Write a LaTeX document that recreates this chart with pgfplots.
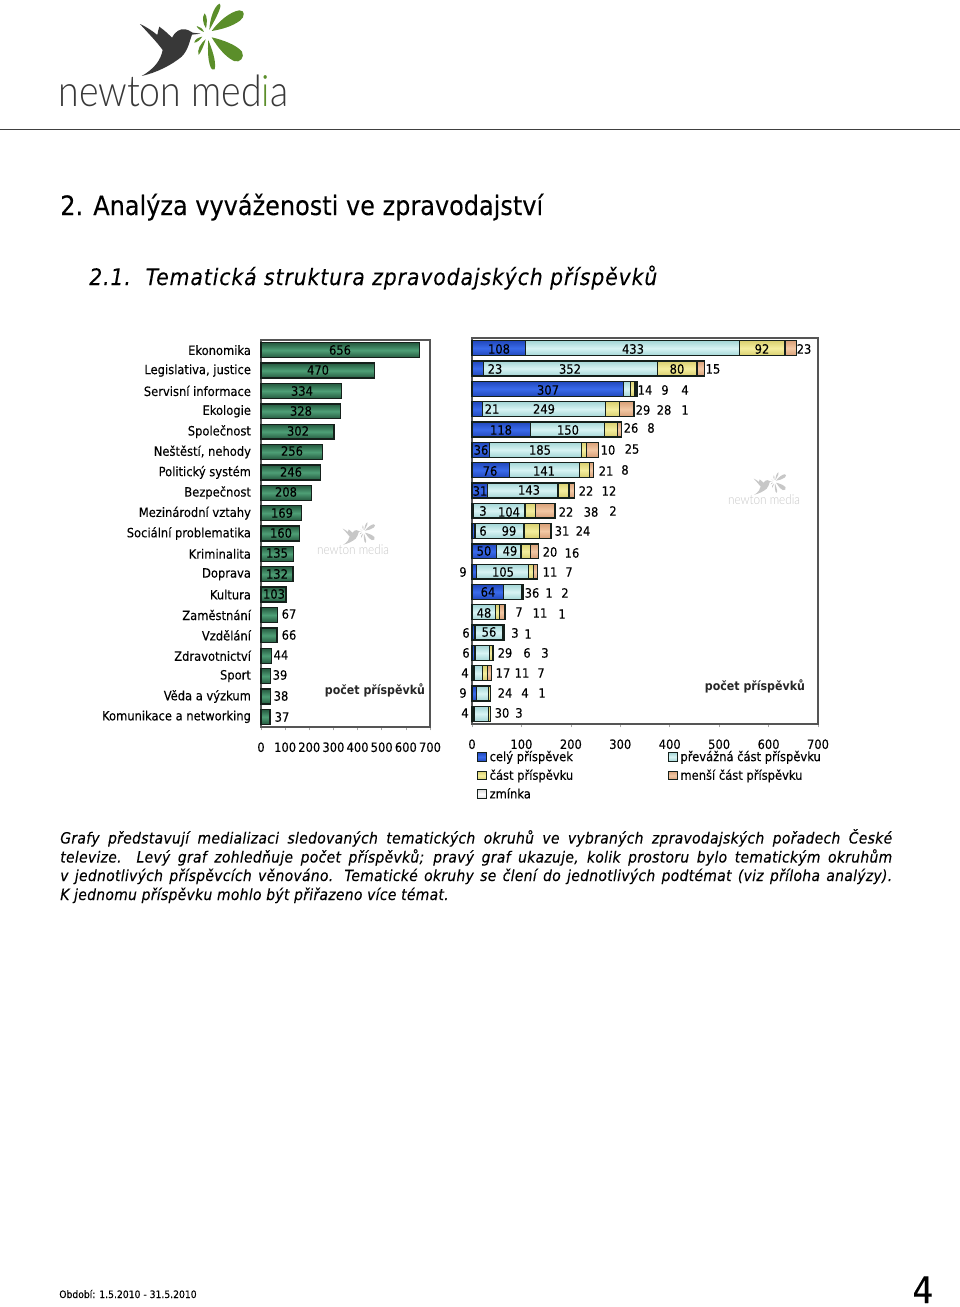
\documentclass[border=0pt]{standalone}
\usepackage{fontspec}
\usepackage{pgfplots}
\usepackage{pgfplotstable}
\pgfplotsset{compat=1.18}
\setmainfont{DejaVu Sans Condensed}[UprightFeatures={FakeBold=0.15}, ItalicFeatures={FakeBold=0.15}]
\newfontfamily\logofont{Lato Light}

\definecolor{framec}{HTML}{555555}
\definecolor{barline}{HTML}{15201B}
\definecolor{greenA}{HTML}{25593F}
\definecolor{greenB}{HTML}{4E9F76}
\definecolor{blueA}{HTML}{2148BC}
\definecolor{blueB}{HTML}{3A6BEA}
\definecolor{aquaA}{HTML}{A4D6D6}
\definecolor{aquaB}{HTML}{D8F4F4}
\definecolor{yelA}{HTML}{D8CF70}
\definecolor{yelB}{HTML}{F4EE9E}
\definecolor{oraA}{HTML}{D8A078}
\definecolor{oraB}{HTML}{F2C8A4}
\definecolor{whiA}{HTML}{DDDDDD}
\definecolor{whiB}{HTML}{FFFFFF}
\definecolor{logogreen}{HTML}{5B8E2A}

% left chart: number of items per topic
\pgfplotstableread{
r v
1 656
2 470
3 334
4 328
5 302
6 256
7 246
8 208
9 169
10 160
11 135
12 132
13 103
14 67
15 66
16 44
17 39
18 38
19 37
}\leftdata

% left chart labels, position in pixels of the page
\pgfplotstableread{
px py lab
340 350 656
318 370 470
302 391 334
301 411 328
298 431 302
292 451 256
291 472 246
286 492 208
282 513 169
281 533 160
277 553 135
277 574 132
274 594 103
289 614 67
289 635 66
281 655 44
280 675 39
281 696 38
282 717 37
}\leftlabels

% right chart: celý, převážná část, část, menší část, zmínka
\pgfplotstableread{
r c p s m z
1 108 433 92 23 0
2 23 352 80 15 0
3 307 14 9 4 0
4 21 249 29 28 1
5 118 150 26 8 0
6 36 185 10 25 0
7 76 141 21 8 0
8 31 143 22 12 0
9 3 104 22 38 2
10 6 99 31 24 0
11 50 49 20 16 0
12 9 105 11 7 0
13 64 36 1 2 0
14 0 48 7 11 1
15 6 56 3 1 0
16 6 29 6 3 0
17 4 17 11 7 0
18 9 24 4 1 0
19 4 30 3 0 0
}\rightdata

\pgfplotstableread{
px py lab
499 349 108
633 349 433
762 349 92
804 349 23
495 369 23
570 369 352
677 369 80
713 369 15
548 390 307
645 390 14
665 390 9
685 390 4
492 409 21
544 409 249
643 410 29
664 410 28
685 410 1
501 430 118
568 430 150
631 428 26
651 428 8
481 450 36
540 450 185
608 450 10
632 449 25
490 471 76
544 471 141
606 471 21
625 470 8
480 491 31
529 490 143
586 491 22
609 491 12
483 511 3
509 512 104
566 512 22
591 512 38
613 511 2
483 531 6
509 531 99
562 531 31
583 531 24
484 551 50
510 551 49
550 552 20
572 553 16
463 572 9
503 572 105
550 572 11
569 572 7
488 592 64
532 593 36
549 593 1
565 593 2
484 613 48
519 612 7
540 613 11
562 614 1
466 633 6
489 632 56
515 633 3
528 634 1
466 653 6
505 653 29
527 653 6
545 653 3
465 673 4
503 673 17
522 673 11
541 673 7
463 693 9
505 693 24
525 693 4
542 693 1
465 713 4
502 713 30
519 713 3
}\rightlabels

\pgfplotsset{
  chartbase/.style={
    scale only axis,
    anchor=south west,
    xmin=0, xmax=700,
    ymin=0.5, ymax=19.5,
    y dir=reverse,
    clip=false,
  },
  framed/.style={
    axis line style={draw=framec, line width=1.1pt},
    xtick={0,100,...,700},
    xtick pos=bottom,
    tick align=outside,
    major tick length=2.5pt,
    xtick style={draw=gray!70, line width=.4pt},
    ytick style={draw=none},
    tick label style={font=\fontsize{9.6}{11}\selectfont},
    /pgf/number format/assume math mode=true,
    xticklabel style={yshift=-5.5pt},
  },
  bar look/.style 2 args={
    draw=barline, line width=1pt,
    top color=#1, bottom color=#1, middle color=#2,
    bar width=11.2pt,
  },
  square/.style 2 args={
    legend image code/.code={\draw[draw=barline, line width=.8pt, top color=#1, bottom color=#1, middle color=#2] (0pt,-3.2pt) rectangle (6.6pt,3.4pt);},
  },
  textlayer/.style={
    hide axis,
    nodes near coords,
    point meta=explicit symbolic,
    nodes near coords style={anchor=center, inner sep=0pt, font=\fontsize{9.6}{11}\selectfont, text=black},
  },
}

\newcommand{\logo}[5]{%
  \begin{scope}[shift={(#1,#2)}, scale=#3, transform shape]
    \fill[#4] (305,228) .. controls (345,205) and (362,180) .. (368,150)
      .. controls (350,125) and (325,100) .. (300,72)
      .. controls (322,82) and (340,95) .. (352,105) .. controls (354,95) and (355,88) .. (358,80)
      .. controls (372,90) and (385,102) .. (396,113) .. controls (405,95) and (420,85) .. (436,88)
      .. controls (447,90) and (452,95) .. (458,98) -- (482,101) -- (456,104)
      .. controls (448,125) and (445,150) .. (425,170) .. controls (395,195) and (350,218) .. (305,228) -- cycle;
    \fill[#5] (515,93) .. controls (535,65) and (570,35) .. (598,31) .. controls (615,30) and (616,50) .. (600,62) .. controls (575,80) and (545,88) .. (515,93) -- cycle;
    \fill[#5] (515,112) .. controls (550,120) and (590,135) .. (606,155) .. controls (615,172) and (600,190) .. (582,183) .. controls (555,170) and (532,140) .. (515,112) -- cycle;
    \fill[#5] (508,90) .. controls (510,55) and (522,20) .. (538,11) .. controls (546,12) and (542,30) .. (508,90) -- cycle;
    \fill[#5] (498,85) .. controls (488,70) and (486,50) .. (494,40) .. controls (502,48) and (502,68) .. (498,85) -- cycle;
    \fill[#5] (492,96) .. controls (482,92) and (472,85) .. (470,78) .. controls (480,80) and (488,86) .. (492,96) -- cycle;
    \fill[#5] (487,110) .. controls (480,120) and (470,128) .. (463,128) .. controls (464,118) and (475,112) .. (487,110) -- cycle;
    \fill[#5] (497,118) .. controls (492,135) and (484,155) .. (476,165) .. controls (470,150) and (482,130) .. (497,118) -- cycle;
    \fill[#5] (505,120) .. controls (515,145) and (530,185) .. (524,208) .. controls (515,218) and (500,190) .. (505,120) -- cycle;
    \node[inner sep=0pt, anchor=south west, text=#4] at (55,322) {\resizebox{517.5pt}{71pt}{\logofont newton med\textcolor{#5}{i}a}};
  \end{scope}%
}

\begin{document}
\begin{tikzpicture}
\path[use as bounding box] (0,0) rectangle (720pt,-980.25pt);

% page furniture, in pixels of the page
\begin{scope}[x=0.75pt, y=-0.75pt]
  \logo{40}{0}{0.3333}{black!78}{logogreen}
  \logo{311.3}{521}{0.1043}{black!22}{black!22}
  \logo{722.3}{471}{0.1043}{black!22}{black!22}
  \draw[black!75, line width=.9pt] (0,129.5) -- (960,129.5);
  \node[anchor=base west, inner sep=0pt, font=\fontsize{20}{24}\selectfont] at (60,215) {2. Analýza vyváženosti ve zpravodajství};
  \node[anchor=base west, inner sep=0pt, font=\fontsize{17}{20}\selectfont\itshape] at (89,285) {\addfontfeatures{LetterSpace=4}2.1.\ \ Tematická struktura zpravodajských příspěvků};
  \begin{scope}[every node/.style={anchor=base west, inner sep=0pt, font=\fontsize{11.6}{14}\selectfont\itshape}]
    \addfontfeatures{LetterSpace=2}
    \node at (60,843.5) {\addfontfeatures{LetterSpace=2}\makebox[624pt][s]{Grafy představují medializaci sledovaných tematických okruhů ve vybraných zpravodajských pořadech České}};
    \node at (60,862.5) {\addfontfeatures{LetterSpace=2}\makebox[624pt][s]{televize. Levý graf zohledňuje počet příspěvků; pravý graf ukazuje, kolik prostoru bylo tematickým okruhům}};
    \node at (60,881) {\addfontfeatures{LetterSpace=2}\makebox[624pt][s]{v jednotlivých příspěvcích věnováno. Tematické okruhy se člení do jednotlivých podtémat (viz příloha analýzy).}};
    \node at (60,900) {\addfontfeatures{LetterSpace=2}K jednomu příspěvku mohlo být přiřazeno více témat.};
  \end{scope}
  \node[anchor=base west, inner sep=0pt, font=\fontsize{7.7}{9}\selectfont] at (59,1298) {Období: 1.5.2010 - 31.5.2010};
  \node[anchor=base, inner sep=0pt, font=\fontsize{27.5}{30}\selectfont] at (923,1303) {4};
\end{scope}

% left chart: one plot per row so that each bar gets its own shading
\begin{axis}[
  chartbase, framed,
  at={(195.75pt,-545.25pt)},
  width=126.75pt, height=290.25pt,
  ytick={1,...,19},
  yticklabels={Ekonomika,{Legislativa, justice},Servisní informace,Ekologie,Společnost,{Neštěstí, nehody},Politický systém,Bezpečnost,Mezinárodní vztahy,Sociální problematika,Kriminalita,Doprava,Kultura,Zaměstnání,Vzdělání,Zdravotnictví,Sport,Věda a výzkum,Komunikace a networking},
  yticklabel style={anchor=east, xshift=-1.5pt},
]
\pgfplotsinvokeforeach{1,...,19}{
  \addplot[xbar, bar look={greenA}{greenB}, restrict y to domain=#1:#1] table[x=v, y=r] {\leftdata};
}
\end{axis}
\begin{axis}[
  chartbase, textlayer,
  at={(195.75pt,-545.25pt)},
  width=126.75pt, height=290.25pt,
]
\addplot[draw=none, mark=none] table[x expr=(\thisrow{px}-261)*700/169, y expr=(\thisrow{py}-340)/20.37+0.5, meta=lab] {\leftlabels};
\node[font=\fontsize{9.2}{11}\selectfont\bfseries, text=black!85] at (axis cs:472,17.68) {počet příspěvků};
\end{axis}

% right chart: frame and legend
\begin{axis}[
  chartbase, framed,
  at={(354pt,-543pt)},
  width=259.5pt, height=289.5pt,
  ytick=\empty,
  legend columns=2,
  legend cell align=left,
  legend style={draw=none, fill=none, at={(0.014,-0.062)}, anchor=north west,
    inner sep=0pt, font=\fontsize{9.6}{11}\selectfont, row sep=.8pt,
    /tikz/every even column/.append style={column sep=69pt}},
]
\addlegendimage{square={blueA}{blueB}}
\addlegendentry{celý příspěvek}
\addlegendimage{square={aquaA}{aquaB}}
\addlegendentry{převážná část příspěvku}
\addlegendimage{square={yelA}{yelB}}
\addlegendentry{část příspěvku}
\addlegendimage{square={oraA}{oraB}}
\addlegendentry{menší část příspěvku}
\addlegendimage{square={whiA}{whiB}}
\addlegendentry{zmínka}
\end{axis}

% right chart: one stacked axis per row, again for the shading
\pgfplotsinvokeforeach{1,...,19}{
\begin{axis}[
  chartbase, hide axis,
  at={(354pt,-543pt)},
  width=259.5pt, height=289.5pt,
  xbar stacked,
  restrict y to domain=#1:#1,
]
\addplot[bar look={blueA}{blueB}] table[x=c, y=r] {\rightdata};
\addplot[bar look={aquaA}{aquaB}] table[x=p, y=r] {\rightdata};
\addplot[bar look={yelA}{yelB}] table[x=s, y=r] {\rightdata};
\addplot[bar look={oraA}{oraB}] table[x=m, y=r] {\rightdata};
\addplot[bar look={whiA}{whiB}] table[x=z, y=r] {\rightdata};
\end{axis}
}
\begin{axis}[
  chartbase, textlayer,
  at={(354pt,-543pt)},
  width=259.5pt, height=289.5pt,
]
\addplot[draw=none, mark=none] table[x expr=(\thisrow{px}-472)*700/346, y expr=(\thisrow{py}-338)/20.32+0.5, meta=lab] {\rightlabels};
\node[font=\fontsize{9.2}{11}\selectfont\bfseries, text=black!85] at (axis cs:572.5,17.67) {počet příspěvků};
\end{axis}
\end{tikzpicture}
\end{document}
